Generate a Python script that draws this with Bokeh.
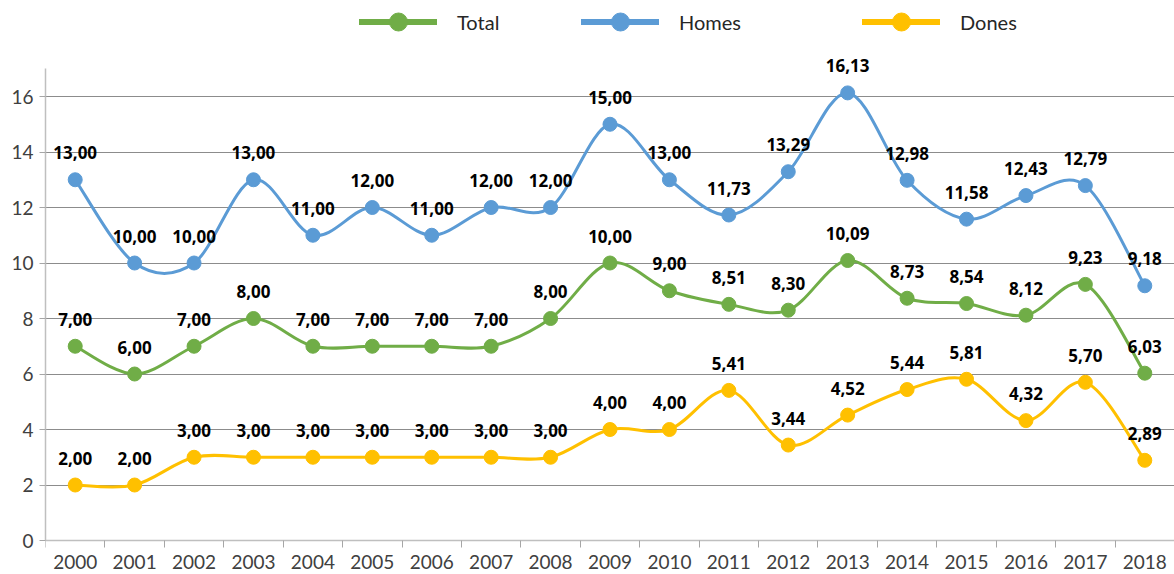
import numpy as np
from bokeh.plotting import figure
from bokeh.models import (ColumnDataSource, Range1d, FixedTicker, Legend, LegendItem)
from bokeh.core.properties import value
from bokeh.embed import file_html
from bokeh.resources import INLINE

years = [str(y) for y in range(2000, 2019)]
total = [7.00, 6.00, 7.00, 8.00, 7.00, 7.00, 7.00, 7.00, 8.00, 10.00, 9.00, 8.51, 8.30, 10.09, 8.73, 8.54, 8.12, 9.23, 6.03]
homes = [13.00, 10.00, 10.00, 13.00, 11.00, 12.00, 11.00, 12.00, 12.00, 15.00, 13.00, 11.73, 13.29, 16.13, 12.98, 11.58, 12.43, 12.79, 9.18]
dones = [2.00, 2.00, 3.00, 3.00, 3.00, 3.00, 3.00, 3.00, 3.00, 4.00, 4.00, 5.41, 3.44, 4.52, 5.44, 5.81, 4.32, 5.70, 2.89]
series_names = ["Total", "Homes", "Dones"]
y_ticks = [0, 2, 4, 6, 8, 10, 12, 14, 16]

colors = {"Total": "#70AD47", "Homes": "#5B9BD5", "Dones": "#FFC000"}
data = {"Total": total, "Homes": homes, "Dones": dones}

LABEL_FONT = "Lato"
DL_FONT = "Noto Sans"

# frame spans the whole figure height; axes drawn at fixed data locations
p = figure(width=1174, height=574, output_backend="svg", toolbar_location=None,
           x_range=Range1d(-0.5, 18.5), y_range=Range1d(-1.225, 19.46),
           min_border_left=45, min_border_right=0, min_border_top=0, min_border_bottom=0)
p.outline_line_color = None
p.background_fill_color = "white"
p.xgrid.grid_line_color = None
p.ygrid.grid_line_color = "#8C8C8C"
p.ygrid.grid_line_width = 1
p.ygrid.ticker = FixedTicker(ticks=y_ticks)

xs = np.arange(len(years))

# x axis
p.xaxis.fixed_location = 0
p.xaxis.ticker = FixedTicker(ticks=list(xs), minor_ticks=list(np.arange(-0.5, len(years), 1.0)))
p.xaxis.major_label_overrides = {int(i): y for i, y in zip(xs, years)}
p.xaxis.major_tick_out = 0
p.xaxis.major_tick_in = 0
p.xaxis.minor_tick_out = 7
p.xaxis.minor_tick_in = 0
p.xaxis.minor_tick_line_color = "#A6A6A6"
p.xaxis.axis_line_color = "#BFBFBF"
p.xaxis.axis_line_width = 1.5
p.xaxis.major_label_standoff = 7
p.xaxis.major_label_text_font = LABEL_FONT
p.xaxis.major_label_text_font_size = "19px"
p.xaxis.major_label_text_color = "#404040"

# y axis
p.yaxis.bounds = (0, 17)
p.yaxis.ticker = FixedTicker(ticks=y_ticks)
p.yaxis.major_tick_out = 6
p.yaxis.major_tick_in = 0
p.yaxis.minor_tick_out = 0
p.yaxis.minor_tick_in = 0
p.yaxis.major_tick_line_color = "#A6A6A6"
p.yaxis.axis_line_color = "#BFBFBF"
p.yaxis.axis_line_width = 1.5
p.yaxis.major_label_standoff = 6
p.yaxis.major_label_text_font = LABEL_FONT
p.yaxis.major_label_text_font_size = "19px"
p.yaxis.major_label_text_color = "#404040"


def smooth_segments(x, y):
    x = np.asarray(x, float)
    y = np.asarray(y, float)
    n = len(x)
    xp = np.concatenate([[x[0]], x, [x[-1]]])
    yp = np.concatenate([[y[0]], y, [y[-1]]])
    x0, y0, x1, y1, cx0, cy0, cx1, cy1 = ([] for _ in range(8))
    for i in range(n - 1):
        a, b, c, d = i, i + 1, i + 2, i + 3
        x0.append(xp[b]); y0.append(yp[b])
        x1.append(xp[c]); y1.append(yp[c])
        cx0.append(xp[b] + (xp[c] - xp[a]) / 6); cy0.append(yp[b] + (yp[c] - yp[a]) / 6)
        cx1.append(xp[c] - (xp[d] - xp[b]) / 6); cy1.append(yp[c] - (yp[d] - yp[b]) / 6)
    return dict(x0=x0, y0=y0, x1=x1, y1=y1, cx0=cx0, cy0=cy0, cx1=cx1, cy1=cy1)


legend_items = {}
for name in series_names:
    vals = data[name]
    col = colors[name]
    seg = ColumnDataSource(smooth_segments(xs, vals))
    p.bezier(x0="x0", y0="y0", x1="x1", y1="y1", cx0="cx0", cy0="cy0", cx1="cx1", cy1="cy1",
             source=seg, line_color=col, line_width=3, line_cap="round")
    src = ColumnDataSource(dict(x=xs, y=vals, lbl=[f"{v:.2f}".replace(".", ",") for v in vals]))
    p.scatter("x", "y", source=src, size=14, fill_color=col, line_color=col)
    p.text("x", "y", text="lbl", source=src, text_font=value(DL_FONT), text_font_style="bold",
           text_font_size="17px", text_color="#000000", text_align="center",
           text_baseline="middle", y_offset=-27)
    # legend-only renderers (NaN data: nothing drawn in the plot)
    lr = p.line(x=[np.nan], y=[np.nan], line_color=col, line_width=6, line_cap="round")
    sr = p.scatter(x=[np.nan], y=[np.nan], size=18, fill_color=col, line_color=col)
    legend_items[name] = [lr, sr]

# separate legends placed like the reference
leg_x = {"Total": 314, "Homes": 536, "Dones": 817}
for name in series_names:
    lg = Legend(items=[LegendItem(label=name, renderers=legend_items[name])],
                location=(leg_x[name], 530), orientation="horizontal",
                glyph_width=78, glyph_height=45, label_standoff=20,
                padding=0, margin=0, border_line_alpha=0, background_fill_alpha=0,
                label_text_font=LABEL_FONT, label_text_font_size="20px",
                label_text_color="#262626")
    p.add_layout(lg, "center")

open("out.html", "w").write(file_html(p, INLINE))
